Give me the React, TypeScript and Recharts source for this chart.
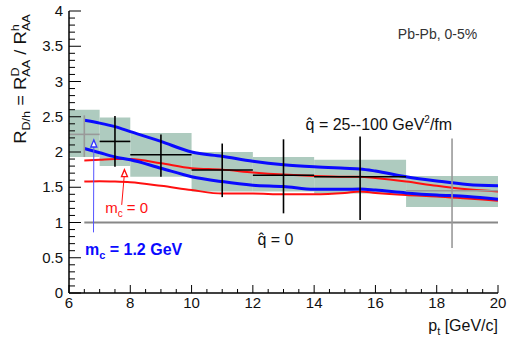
import React from 'react';
import {
  ComposedChart,
  Line,
  XAxis,
  YAxis,
  ReferenceArea,
  ReferenceLine,
  ReferenceDot,
} from 'recharts';

// model curves (x grid shared by all four)
const curveX = [6.5, 7, 7.5, 8, 9, 10, 11, 12, 13, 14, 15, 15.5, 16, 17, 18, 19, 20];
const blueUpper = [2.45, 2.41, 2.36, 2.29, 2.15, 2.0, 1.94, 1.87, 1.82, 1.79, 1.77, 1.76, 1.73, 1.65, 1.59, 1.54, 1.52];
const blueLower = [2.05, 1.99, 1.93, 1.89, 1.77, 1.65, 1.58, 1.53, 1.51, 1.47, 1.47, 1.475, 1.46, 1.42, 1.39, 1.37, 1.33];
const redUpper = [1.88, 1.89, 1.9, 1.9, 1.84, 1.77, 1.75, 1.71, 1.68, 1.66, 1.65, 1.65, 1.63, 1.58, 1.52, 1.47, 1.44];
const redLower = [1.58, 1.585, 1.58, 1.57, 1.52, 1.46, 1.41, 1.41, 1.4, 1.4, 1.42, 1.44, 1.42, 1.39, 1.37, 1.34, 1.31];

// measured ratio, per pt bin
const pointX = [6.5, 7.5, 9, 11, 13, 15.5, 18.5];
const pointY = [2.25, 2.15, 1.96, 1.745, 1.67, 1.65, 1.45];
const binLow = [6, 7, 8, 10, 12, 14, 17];
const binHigh = [7, 8, 10, 12, 14, 17, 20];
const statLow = [1.93, 1.79, 1.65, 1.36, 1.13, 1.035, 0.64];
const statHigh = [2.52, 2.51, 2.25, 2.12, 2.18, 2.22, 2.19];
const sysLow = [1.93, 1.8, 1.65, 1.44, 1.44, 1.41, 1.22];
const sysHigh = [2.6, 2.49, 2.27, 2.0, 1.93, 1.89, 1.66];

const xTickLabels = [6, 8, 10, 12, 14, 16, 18, 20];
const yTickLabels = [0, 0.5, 1, 1.5, 2, 2.5, 3, 3.5, 4];

const xTicks = Array.from({ length: 29 }, (_, i) => 6 + i * 0.5);
const yTicks = Array.from({ length: 41 }, (_, i) => Math.round(i) / 10);

const rows = curveX.map((x, i) => ({
  x,
  bu: blueUpper[i],
  bl: blueLower[i],
  ru: redUpper[i],
  rl: redLower[i],
}));

const FONT = '"Liberation Sans", Arial, sans-serif';
const BAND = '#aecbbf';
const BLUE = '#0a0aff';
const RED = '#ff1010';

const isMajor = (v: number, list: number[]) => list.some((l) => Math.abs(l - v) < 1e-6);

function BottomTick({ x, y, payload }: any) {
  const major = isMajor(payload.value, xTickLabels);
  return (
    <g>
      <line x1={x} y1={y} x2={x} y2={y - (major ? 8 : 4)} stroke="#000" strokeWidth={1} />
      {major && (
        <text x={x} y={y + 15} textAnchor="middle" fontSize={15} fontFamily={FONT} fill="#111">
          {payload.value}
        </text>
      )}
    </g>
  );
}

function TopTick({ x, y, payload }: any) {
  const major = isMajor(payload.value, xTickLabels);
  return <line x1={x} y1={y} x2={x} y2={y + (major ? 8 : 4)} stroke="#000" strokeWidth={1} />;
}

function LeftTick({ x, y, payload }: any) {
  const major = isMajor(payload.value, yTickLabels);
  return (
    <g>
      <line x1={x} y1={y} x2={x + (major ? 12 : 6)} y2={y} stroke="#000" strokeWidth={1} />
      {major && (
        <text x={x - 6} y={y + 5} textAnchor="end" fontSize={15} fontFamily={FONT} fill="#111">
          {payload.value}
        </text>
      )}
    </g>
  );
}

function RightTick({ x, y, payload }: any) {
  const major = isMajor(payload.value, yTickLabels);
  return <line x1={x} y1={y} x2={x - (major ? 12 : 6)} y2={y} stroke="#000" strokeWidth={1} />;
}

function XTitle({ viewBox }: any) {
  const { x, y, width } = viewBox;
  return (
    <text x={x + width} y={y + 38} textAnchor="end" fontSize={16} fontFamily={FONT} fill="#111">
      p<tspan fontSize={11} dy={4}>t</tspan>
      <tspan dy={-4}> [GeV/c]</tspan>
    </text>
  );
}

function YTitle() {
  return (
    <g transform="translate(26,79) rotate(-90)">
      <text textAnchor="middle" fontSize={16} fontFamily={FONT} fill="#111" transform="scale(1.15,1)">
        R<tspan fontSize={11} dy={4}>D/h</tspan>
        <tspan dy={-4}> = R</tspan>
        <tspan fontSize={11} dy={-7}>D</tspan>
        <tspan fontSize={11} dx={-8} dy={11}>AA</tspan>
        <tspan dy={-4}> / R</tspan>
        <tspan fontSize={11} dy={-7}>h</tspan>
        <tspan fontSize={11} dx={-6} dy={11}>AA</tspan>
      </text>
    </g>
  );
}

const upHead = (color: string) => (p: any) => (
  <path
    d={`M${p.cx},${p.cy} L${p.cx - 3},${p.cy + 7} L${p.cx + 3},${p.cy + 7} Z`}
    fill="#fff"
    stroke={color}
    strokeWidth={1.3}
  />
);

export default function App() {
  const last = pointX.length - 1;
  return (
    <div style={{ position: 'absolute', left: 0, top: 0, width: 508, height: 342, background: '#fff' }}>
      <ComposedChart
        width={508}
        height={342}
        data={rows}
        margin={{ top: 11, right: 10, bottom: 0, left: 0 }}
        style={{ fontFamily: FONT }}
      >
        <XAxis
          dataKey="x"
          type="number"
          domain={[6, 20]}
          allowDataOverflow
          ticks={xTicks}
          interval={0}
          tickSize={0}
          tickMargin={0}
          tick={<BottomTick />}
          axisLine={{ stroke: '#000', strokeWidth: 1.5 }}
          height={49}
          label={(p: any) => <XTitle {...p} />}
        />
        <XAxis
          xAxisId="top"
          orientation="top"
          type="number"
          domain={[6, 20]}
          allowDataOverflow
          ticks={xTicks}
          interval={0}
          tickSize={0}
          tickMargin={0}
          tick={<TopTick />}
          axisLine={{ stroke: '#000', strokeWidth: 1 }}
          height={0}
        />
        <YAxis
          type="number"
          domain={[0, 4]}
          allowDataOverflow
          ticks={yTicks}
          interval={0}
          tickSize={0}
          tickMargin={0}
          tick={<LeftTick />}
          axisLine={{ stroke: '#000', strokeWidth: 1.5 }}
          width={69}
          label={() => <YTitle />}
        />
        <YAxis
          yAxisId="right"
          orientation="right"
          type="number"
          domain={[0, 4]}
          allowDataOverflow
          ticks={yTicks}
          interval={0}
          tickSize={0}
          tickMargin={0}
          tick={<RightTick />}
          axisLine={{ stroke: '#000', strokeWidth: 1 }}
          width={0}
        />

        {binLow.map((lo, i) => (
          <ReferenceArea
            key={`sys${i}`}
            x1={lo}
            x2={binHigh[i]}
            y1={sysLow[i]}
            y2={sysHigh[i]}
            fill={BAND}
            fillOpacity={1}
            stroke="none"
            ifOverflow="visible"
          />
        ))}

        <ReferenceLine
          segment={[{ x: 6.5, y: 1 }, { x: 20, y: 1 }]}
          stroke="#888"
          strokeWidth={2}
          ifOverflow="visible"
        />

        <Line dataKey="ru" type="monotone" stroke={RED} strokeWidth={2} dot={false} isAnimationActive={false} />
        <Line dataKey="rl" type="monotone" stroke={RED} strokeWidth={2} dot={false} isAnimationActive={false} />
        <Line dataKey="bu" type="monotone" stroke={BLUE} strokeWidth={3} dot={false} isAnimationActive={false} />
        <Line dataKey="bl" type="monotone" stroke={BLUE} strokeWidth={3} dot={false} isAnimationActive={false} />

        {pointX.map((px, i) => {
          const c = i === 0 || i === last ? '#999' : '#000';
          return [
            <ReferenceLine
              key={`h${i}`}
              segment={[{ x: binLow[i], y: pointY[i] }, { x: binHigh[i], y: pointY[i] }]}
              stroke={c}
              strokeWidth={1.6}
              ifOverflow="visible"
            />,
            <ReferenceLine
              key={`v${i}`}
              segment={[{ x: px, y: statLow[i] }, { x: px, y: statHigh[i] }]}
              stroke={c}
              strokeWidth={1.6}
              ifOverflow="visible"
            />,
          ];
        })}

        {/* arrows to the curve families */}
        <ReferenceLine
          segment={[{ x: 6.8, y: 0.86 }, { x: 6.81, y: 2.07 }]}
          stroke="#5555ff"
          strokeWidth={1}
          ifOverflow="visible"
        />
        <ReferenceDot x={6.81} y={2.17} r={0} ifOverflow="visible" shape={upHead('#3333ff')} />
        <ReferenceLine
          segment={[{ x: 7.72, y: 1.25 }, { x: 7.8, y: 1.65 }]}
          stroke={RED}
          strokeWidth={1}
          ifOverflow="visible"
        />
        <ReferenceDot x={7.81} y={1.75} r={0} ifOverflow="visible" shape={upHead(RED)} />

        <ReferenceDot
          x={16.73}
          y={3.6}
          r={0}
          ifOverflow="visible"
          shape={(p: any) => (
            <text x={p.cx} y={p.cy} fontSize={14} fontFamily={FONT} fill="#333">
              Pb-Pb, 0-5%
            </text>
          )}
        />
        <ReferenceDot
          x={13.72}
          y={2.31}
          r={0}
          ifOverflow="visible"
          shape={(p: any) => (
            <text x={p.cx} y={p.cy} fontSize={16} fontFamily={FONT} fill="#111">
              q̂ = 25--100 GeV<tspan fontSize={10} dy={-7}>2</tspan>
              <tspan dy={7}>/fm</tspan>
            </text>
          )}
        />
        <ReferenceDot
          x={12.15}
          y={0.68}
          r={0}
          ifOverflow="visible"
          shape={(p: any) => (
            <text x={p.cx} y={p.cy} fontSize={16} fontFamily={FONT} fill="#111">
              q̂ = 0
            </text>
          )}
        />
        <ReferenceDot
          x={7.18}
          y={1.13}
          r={0}
          ifOverflow="visible"
          shape={(p: any) => (
            <text x={p.cx} y={p.cy} fontSize={15} fontFamily={FONT} fill={RED}>
              m<tspan fontSize={10} dy={4}>c</tspan>
              <tspan dy={-4}> = 0</tspan>
            </text>
          )}
        />
        <ReferenceDot
          x={6.52}
          y={0.54}
          r={0}
          ifOverflow="visible"
          shape={(p: any) => (
            <text x={p.cx} y={p.cy} fontSize={16} fontWeight="bold" fontFamily={FONT} fill={BLUE}>
              m<tspan fontSize={11} dy={4}>c</tspan>
              <tspan dy={-4}> = 1.2 GeV</tspan>
            </text>
          )}
        />
      </ComposedChart>
    </div>
  );
}
